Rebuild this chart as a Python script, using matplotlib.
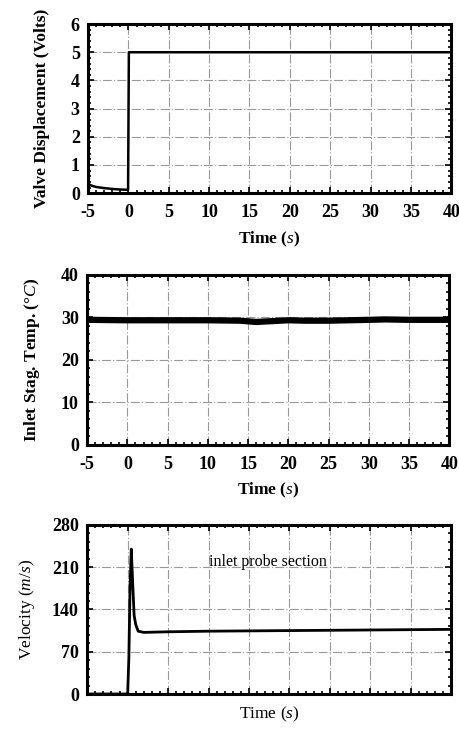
import matplotlib
matplotlib.use("Agg")
import matplotlib.pyplot as plt
from matplotlib.ticker import AutoMinorLocator, MultipleLocator

# valve displacement
valve_t = [-5, -4.8, -4.5, -4, -3, -2, -1, -0.05, 0.0, 0.05, 40]
valve_v = [0.35, 0.3, 0.26, 0.22, 0.18, 0.15, 0.13, 0.12, 2.5, 5.0, 5.0]

# inlet stagnation temperature
temp_t = [-5, 0, 5, 10, 14, 16, 18, 20, 22, 25, 30, 32, 35, 40]
temp_v = [29.4, 29.3, 29.3, 29.3, 29.2, 28.9, 29.1, 29.3, 29.2, 29.2, 29.4, 29.5, 29.4, 29.4]

# velocity
vel_t = [-5, 0, 0.15, 0.3, 0.45, 0.6, 0.8, 1.0, 1.3, 2, 5, 10, 20, 30, 40]
vel_v = [0, 0, 60, 180, 240, 190, 130, 115, 104, 102, 103, 104, 105, 106, 107]

x_ticks = [-5, 0, 5, 10, 15, 20, 25, 30, 35, 40]

plt.rcParams.update(
    {
        "font.family": "Liberation Serif",
        "font.size": 11,
        "axes.unicode_minus": False,
        "mathtext.fontset": "custom",
        "mathtext.it": "Liberation Serif:italic",
        "mathtext.rm": "Liberation Serif",
    }
)

fig = plt.figure(figsize=(4.59, 7.29), dpi=100)
grid_style = dict(color="0.6", linestyle=(0, (8, 2, 1, 2)), linewidth=0.8)


def style_axes(ax, yticks, show_xlabels=True):
    ax.set_xlim(-5, 40)
    ax.set_ylim(yticks[0], yticks[-1])
    ax.set_xticks(x_ticks)
    ax.set_yticks(yticks)
    ax.xaxis.set_minor_locator(MultipleLocator(1))
    ax.yaxis.set_minor_locator(AutoMinorLocator(5))
    ax.tick_params(which="both", direction="in", top=True, right=True, width=1.2)
    ax.tick_params(which="major", length=4, labelsize=13)
    ax.tick_params(axis="x", which="major", pad=8)
    ax.tick_params(axis="y", which="major", pad=6)
    ax.tick_params(which="minor", length=2.5)
    ax.grid(True, **grid_style)
    for s in ax.spines.values():
        s.set_linewidth(2.2)
    for lab in ax.get_xticklabels() + ax.get_yticklabels():
        lab.set_fontweight("bold")
    if not show_xlabels:
        ax.set_xticklabels([])


ax1 = fig.add_axes([0.192, 0.735, 0.791, 0.232])
ax1.plot(valve_t, valve_v, color="black", linewidth=1.8)
style_axes(ax1, [0, 1, 2, 3, 4, 5, 6])
ax1.set_xlabel("Time ($s$)", fontweight="bold", fontsize=12.5, labelpad=6)
ax1.set_ylabel("Valve Displacement (Volts)", fontweight="bold", fontsize=12.5, labelpad=15)

ax2 = fig.add_axes([0.190, 0.390, 0.789, 0.233])
ax2.plot(temp_t, temp_v, color="black", linewidth=4.5)
style_axes(ax2, [0, 10, 20, 30, 40])
ax2.set_xlabel("Time ($s$)", fontweight="bold", fontsize=12.5, labelpad=6)
ax2.set_ylabel("Inlet Stag. Temp. (°$C$)", fontweight="bold", fontsize=12.5, labelpad=14)

ax3 = fig.add_axes([0.190, 0.048, 0.793, 0.232])
ax3.plot(vel_t, vel_v, color="black", linewidth=2.0)
style_axes(ax3, [0, 70, 140, 210, 280], show_xlabels=False)
ax3.set_xlabel("Time ($s$)", fontsize=12.5, labelpad=0)
ax3.set_ylabel("Velocity ($m/s$)", fontsize=12.5, labelpad=11)
ax3.text(17.3, 218, "inlet probe section", ha="center", va="center", fontsize=11.5)

fig.savefig("out.png", dpi=100)
